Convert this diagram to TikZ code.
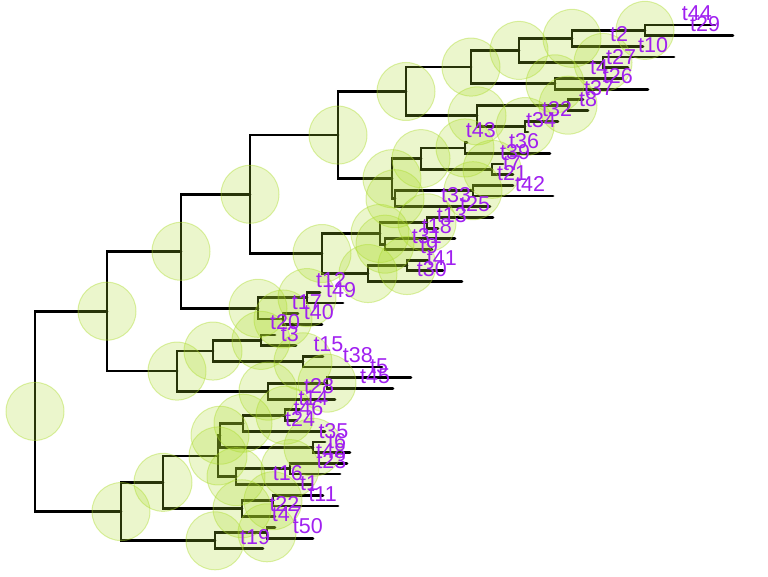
\documentclass[tikz,border=0pt]{standalone}
\usepackage{fontspec}
\setmainfont{Liberation Sans}
\definecolor{tipcol}{HTML}{A020F0}
\definecolor{yg}{RGB}{170,218,40}
\begin{document}
\begin{tikzpicture}[x=1pt,y=-1pt,
  branch/.style={line width=2.8pt, black, line cap=round},
  nodecirc/.style={fill=yg, fill opacity=0.24, draw=yg, draw opacity=0.4, line width=1pt},
  tiplab/.style={anchor=base west, inner sep=0pt, text=tipcol, font=\fontsize{21.5}{21.5}\selectfont}]
\useasboundingbox (0,0) rectangle (768,576);
% tips: index / end x
\foreach \i/\ex in {1/715,2/733,3/643,4/674,5/628,6/622,7/648,8/583,9/588,10/558,
  11/528,12/467,13/550,14/503,15/513,16/513,17/553,18/490,19/493,20/438,
  21/455,22/432,23/428,24/443,25/462,26/320,27/343,28/298,29/322,30/275,
  31/296,32/323,33/382,34/411,35/393,36/335,37/300,38/297,39/325,40/325,
  41/350,42/347,43/340,44/312,45/323,46/338,47/275,48/275,49/313,50/263}
  {\coordinate (tp\i) at ({\ex},{25+10.69*(\i-1)});}
% internal nodes
\coordinate (N1) at (645,30.35);
\coordinate (N2) at (572,38.36);
\coordinate (N4) at (603,62.42);
\coordinate (N3) at (519,50.39);
\coordinate (N5) at (555,83.80);
\coordinate (N6) at (471,67.09);
\coordinate (N9) at (568,105.18);
\coordinate (N10) at (525,126.56);
\coordinate (N8) at (477,115.87);
\coordinate (N7) at (406,91.48);
\coordinate (J1a) at (465,147.94);
\coordinate (J1b) at (492,169.32);
\coordinate (J1) at (421,158.63);
\coordinate (J2a) at (473,190.70);
\coordinate (J2) at (395,198.71);
\coordinate (J) at (392,178.67);
\coordinate (G) at (338,135.08);
\coordinate (H1a) at (427,222.77);
\coordinate (H1b) at (385,244.15);
\coordinate (H1) at (380,233.46);
\coordinate (H2a) at (407,265.53);
\coordinate (H2) at (368,273.54);
\coordinate (H) at (322,253.50);
\coordinate (E) at (250,194.29);
\coordinate (F1) at (307,297.60);
\coordinate (F2) at (283,318.98);
\coordinate (F) at (258,308.29);
\coordinate (C) at (181,251.29);
\coordinate (D1) at (261,340.36);
\coordinate (D2) at (303,361.74);
\coordinate (D0) at (213,351.05);
\coordinate (D3a) at (327,383.12);
\coordinate (D3) at (268,391.13);
\coordinate (D) at (177,371.09);
\coordinate (A) at (107,311.19);
\coordinate (X1a) at (285,415.19);
\coordinate (X1) at (243,423.20);
\coordinate (X2) at (313,447.26);
\coordinate (X) at (220,435.23);
\coordinate (Y1) at (290,468.64);
\coordinate (Y) at (236,476.65);
\coordinate (B1a) at (218,455.94);
\coordinate (B1b1) at (273,500.71);
\coordinate (B1b) at (242,508.72);
\coordinate (B1) at (163,482.33);
\coordinate (B2a) at (267,532.78);
\coordinate (B2) at (215,540.79);
\coordinate (B) at (121,511.56);
\coordinate (root) at (35,411.38);
% branches
\foreach \p/\c in {root/A,root/B,A/C,A/D,C/E,C/F,E/G,E/H,G/N7,G/J,
  N7/N6,N7/N8,N6/N3,N6/N5,N3/N2,N3/N4,N2/N1,N2/tp3,N1/tp1,N1/tp2,
  N4/tp4,N4/tp5,N5/tp6,N5/tp7,N8/N9,N8/N10,N9/tp8,N9/tp9,N10/tp10,N10/tp11,
  J/J1,J/J2,J1/J1a,J1/J1b,J1a/tp12,J1a/tp13,J1b/tp14,J1b/tp15,J2/J2a,J2/tp18,
  J2a/tp16,J2a/tp17,H/H1,H/H2,H1/H1a,H1/H1b,H1a/tp19,H1a/tp20,H1b/tp21,H1b/tp22,
  H2/H2a,H2/tp25,H2a/tp23,H2a/tp24,F/F1,F/F2,F1/tp26,F1/tp27,F2/tp28,F2/tp29,
  D/D0,D/D3,D0/D1,D0/D2,D1/tp30,D1/tp31,D2/tp32,D2/tp33,D3/D3a,D3/tp36,
  D3a/tp34,D3a/tp35,B/B1,B/B2,B1/B1a,B1/B1b,B1a/X,B1a/Y,X/X1,X/X2,
  X1/X1a,X1/tp39,X1a/tp37,X1a/tp38,X2/tp40,X2/tp41,Y/Y1,Y/tp44,Y1/tp42,Y1/tp43,
  B1b/B1b1,B1b/tp47,B1b1/tp45,B1b1/tp46,B2/B2a,B2/tp50,B2a/tp48,B2a/tp49}
  {\draw[branch] (\p) |- (\c);}
% node circles
\foreach \n in {root,A,B,C,D,E,F,G,H,N1,N2,N3,N4,N5,N6,N7,N8,N9,N10,
  J,J1,J1a,J1b,J2,J2a,H1,H1a,H1b,H2,H2a,F1,F2,D0,D1,D2,D3,D3a,
  B1,B1a,B1b,B1b1,X,X1,X1a,X2,Y,Y1,B2,B2a}
  {\path[nodecirc] (\n) circle[radius=29pt];}
% tip labels
\foreach \i/\lx/\by/\txt in {1/681.7/20/t44,2/690/31.7/t29,3/610/41.7/t2,4/638/52.3/t10,
  5/606/64.3/t27,6/590/74/t4,7/602.7/83.3/t26,8/584/95/t37,9/579/106/t8,
  10/542/116/t32,11/526/127.7/t34,12/465.7/137.7/t43,13/509/148.3/t36,
  14/500/159.3/t39,15/503/170/t7,16/497/180/t21,17/515/191.7/t42,
  18/441/202.7/t33,19/460/211.7/t25,20/436.7/222.2/t13,21/421.7/233.3/t18,
  22/411.7/243.3/t31,23/420/253.3/t9,24/426.7/265/t41,25/416.7/276.7/t30,
  26/316/287.3/t12,27/326/297.3/t49,28/291.7/309/t17,29/303.7/319.7/t40,
  30/270/329.5/t20,31/280.7/341/t3,32/313.3/351/t15,33/342.7/362.3/t38,
  34/370/373.3/t5,35/360/383.3/t45,36/304/393.2/t28,37/298.3/405/t14,
  38/293.3/415/t46,39/285/426/t24,40/318.3/438.3/t35,41/328/448.3/t6,
  42/316/458/t48,43/316.3/468.3/t23,44/272.7/480/t16,45/300/490/t1,
  46/308.3/501/t11,47/269.3/511.7/t22,48/271.7/521.7/t47,49/292.7/533.3/t50,
  50/240/544.3/t19}
  {\node[tiplab] (lab\i) at (\lx,\by) {\txt};}
\end{tikzpicture}
\end{document}
